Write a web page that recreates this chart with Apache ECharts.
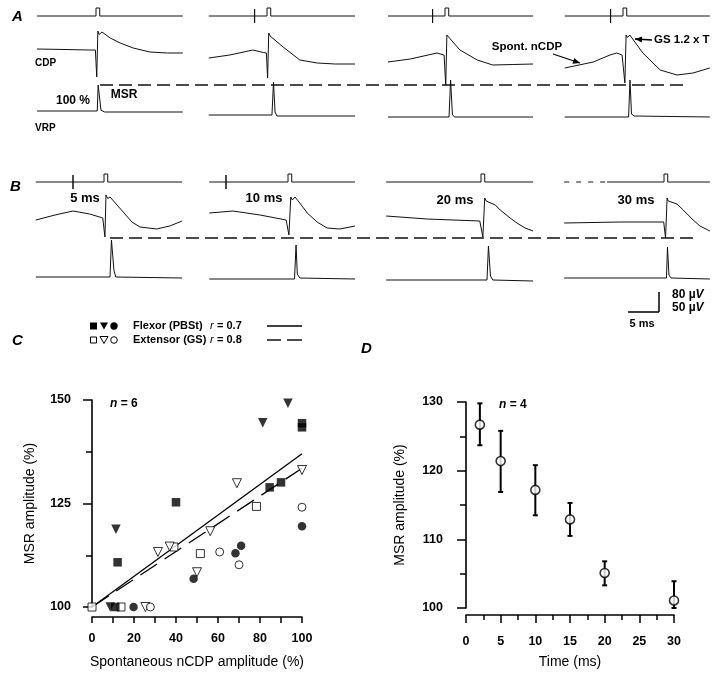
<!DOCTYPE html>
<html><head><meta charset="utf-8">
<script src="https://cdn.jsdelivr.net/npm/echarts@6/dist/echarts.min.js"></script>
<style>html,body{margin:0;padding:0;background:#fff}#c{width:720px;height:677px}</style>
</head><body><div id="c"></div>
<script>
// ================= DATA =================
// Panels A/B: traces, time in ms relative to GS test pulse, amplitude in µV
const windowsA = [[-9.5,14],[-9.4,14.2],[-9.2,14.2],[-9.4,14]];
const windowsB = [[-11,12.6],[-12.7,10.8],[-15.3,8.4],[-16.1,7.4]];
const stimTicksA = [null,-2,-2,-2];      // nCDP trigger (ms)
const stimTicksB = [-5,-10,-20,-30];     // conditioning delay (ms)
const delayLabelsB = ['5 ms','10 ms','20 ms','30 ms'];

const cdpA1 = [[-9.5,4],[-5,2],[-1,0],[-0.1,0],[0.12,-108],[0.3,76],[0.5,62],[0.97,72],[2.3,48],[3.9,28],[6.0,8],[8.7,-8],[11.5,-12],[14,-12]];
const cdpA2 = [[-9.4,-32],[-6,-20],[-2.3,0],[-0.6,-10],[-0.1,-12],[0.1,-112],[0.28,68],[0.5,56],[0.8,64],[2.6,12],[5.3,-40],[8.1,-52],[11,-56],[14.2,-56]];
const cdpA3 = [[-9.2,-48],[-5.6,-36],[-1.3,-12],[-0.15,-20],[0.12,-140],[0.3,60],[0.45,52],[0.6,60],[2.4,0],[5.2,-40],[7.7,-60],[11,-58],[14.2,-56]];
const cdpA4 = [[-9.4,-72],[-4.8,-48],[-2.1,-20],[-1,-12],[-0.15,-20],[0.3,-132],[0.5,60],[0.7,50],[1.1,60],[3.2,-12],[6,-80],[8.7,-100],[11.3,-92],[14,-72]];
const vrpA1 = [[-9.5,10],[0.2,10],[0.35,75],[0.6,75],[0.8,12],[1.4,7.5],[14,7.5]];
const vrpA2 = [[-9.4,0],[0.8,0],[1.05,82.5],[1.3,7.5],[1.6,-2.5],[14.2,-2.5]];
const vrpA3 = [[-9.2,-5],[0.65,-5],[0.9,87.5],[1.2,0],[1.6,-5],[14.2,-5]];
const vrpA4 = [[-9.4,-5],[0.9,-5],[1.13,87.5],[1.37,2.5],[1.8,-2.5],[14,-5]];

const cdpB1 = [[-11,0],[-7.9,20],[-5,36],[-2.3,24],[-0.2,8],[0.15,-68],[0.32,100],[0.6,86],[0.97,92],[2.1,60],[3.1,32],[4.5,-8],[5.8,-28],[8.5,-36],[10.6,-24],[12.6,-4]];
const cdpB2 = [[-12.7,28],[-8.9,36],[-4.5,20],[-0.3,0],[0.15,-60],[0.45,92],[0.7,80],[1.13,92],[1.9,68],[3.1,28],[4.7,-8],[6.3,-32],[8.4,-36],[10.8,-24]];
const cdpB3 = [[-15.3,16],[-8.7,4],[-0.2,-4],[0.3,-68],[0.6,88],[0.85,76],[1.13,84],[2.3,60],[3.1,40],[4.7,8],[5.8,-12],[7.1,-32],[8.4,-44]];
const cdpB4 = [[-16.1,-12],[-7.1,-8],[-0.05,-8],[0.25,-72],[0.5,88],[0.7,76],[0.97,84],[2.1,64],[3.1,40],[4.7,0],[5.8,-24],[7.4,-44]];
const vrpB1 = [[-11,2.5],[0.97,2.5],[1.2,95],[1.37,100],[1.6,20],[1.9,2.5],[12.6,0]];
const vrpB2 = [[-12.7,-2.5],[1.05,-2.5],[1.3,82.5],[1.5,10],[1.9,0],[10.8,-2.5]];
const vrpB3 = [[-15.3,-5],[0.97,-5],[1.2,80],[1.53,5],[1.9,-5],[8.4,-7.5]];
const vrpB4 = [[-16.1,0],[0.4,0],[0.56,77.5],[0.8,7.5],[1.13,0],[7.4,-2.5]];

// Panel C: spontaneous nCDP amplitude (%) vs MSR amplitude (%)
const flexSq  = [[12.2,110.8],[40,125.3],[84.6,128.9],[90,130.1],[100,144.4],[100,143.4],[11.1,100]];
const flexTri = [[11.4,118.8],[81.3,144.5],[93.3,149.2],[8.7,100]];
const flexCir = [[19.8,100],[48.4,106.8],[68.3,113],[71,114.8],[100,119.5]];
const extSq   = [[0,100],[13.8,100],[51.6,112.9],[78.3,124.3],[39,114.5]];
const extTri  = [[31.4,113.3],[37,114.6],[56.3,118.3],[69,129.9],[50,108.4],[100,133.1],[25.4,100]];
const extCir  = [[60.8,113.3],[70,110.2],[100,124.1],[27.8,100]];
const fitFlex = [[0,100],[100,137]];
const fitExt  = [[0,100],[100,133.5]];

// Panel D: time (ms) vs MSR amplitude (%), mean ± SEM
const timeD  = [2,5,10,15,20,30];
const meanD  = [126.7,121.4,117.2,112.9,105.1,101.1];
const upperD = [129.8,125.8,120.8,115.3,106.8,103.9];
const lowerD = [123.7,116.9,113.5,110.5,103.3,100.0];

// ================= LAYOUT =================
const FONT = '"Liberation Sans", Arial, Helvetica, sans-serif';
const PX_PER_MS = 6.2;
const pulseXA = [96,267,445,623];
const pulseXB = [104,288,481,664];
const rowsA = {stim:{top:6,h:20,min:-10,max:10}, cdp:{top:20,h:70,min:-160,max:120}, vrp:{top:75,h:50,min:-25,max:100}};
const rowsB = {stim:{top:172,h:20,min:-10,max:10}, cdp:{top:185,h:65,min:-120,max:140}, vrp:{top:230,h:55,min:-17.5,max:120}};

const grids=[], xAxes=[], yAxes=[], series=[];
function addGrid(left,width,row,xmin,xmax){
  const gi=grids.length;
  grids.push({left:left, top:row.top, width:width, height:row.h, outerBoundsMode:'none'});
  xAxes.push({type:'value', gridIndex:gi, min:xmin, max:xmax, show:false});
  yAxes.push({type:'value', gridIndex:gi, min:row.min, max:row.max, show:false});
  return gi;
}
function addLine(gi,data,style){
  series.push({type:'line', xAxisIndex:gi, yAxisIndex:gi, data:data, symbol:'none', silent:true,
    animation:false, lineStyle:Object.assign({color:'#111', width:1}, style||{})});
}
function stimData(win,tick,startT){
  const d=[[startT,0]];
  if(tick!==null && tick>=win[0]){ d.push([tick,0],[tick,7],[tick,-7],[tick,0]); }
  d.push([0,0],[0,8],[0.6,8],[0.6,0],[win[1],0]);
  return d;
}
function buildPanel(rows,pulseX,wins,ticks,cdps,vrps,dashEnds){
  for(let i=0;i<4;i++){
    const w=wins[i], left=pulseX[i]+w[0]*PX_PER_MS, width=(w[1]-w[0])*PX_PER_MS;
    let g=addGrid(left,width,rows.stim,w[0],w[1]);
    const de = dashEnds ? dashEnds[i] : null;
    if(de!==null){
      addLine(g,[[w[0],0],[de,0]],{type:[5,7]});
      addLine(g,stimData(w,ticks[i],de));
    } else addLine(g,stimData(w,ticks[i],w[0]));
    g=addGrid(left,width,rows.cdp,w[0],w[1]); addLine(g,cdps[i]);
    g=addGrid(left,width,rows.vrp,w[0],w[1]); addLine(g,vrps[i]);
  }
}
buildPanel(rowsA,pulseXA,windowsA,stimTicksA,[cdpA1,cdpA2,cdpA3,cdpA4],[vrpA1,vrpA2,vrpA3,vrpA4],null);
buildPanel(rowsB,pulseXB,windowsB,stimTicksB,[cdpB1,cdpB2,cdpB3,cdpB4],[vrpB1,vrpB2,vrpB3,vrpB4],[null,null,null,-9.2]);

// dashed 100% MSR reference lines (overlay grids in page-pixel x units)
const lvlA = Math.max.apply(null, vrpA1.map(p=>p[1]));
const lvlB = Math.max.apply(null, vrpB1.map(p=>p[1]));
let go = addGrid(0,720,rowsA.vrp,0,720); addLine(go,[[100,lvlA],[683,lvlA]],{type:[13,6],width:1.3});
go = addGrid(0,720,rowsB.vrp,0,720); addLine(go,[[110,lvlB],[693,lvlB]],{type:[13,6],width:1.3});

// ---------- Panel C ----------
const axisBlack = {lineStyle:{color:'#000', width:1.6}};
const gC = grids.length;
grids.push({left:92, top:400, width:210, height:207, outerBoundsMode:'none'});
xAxes.push({type:'value', gridIndex:gC, min:0, max:100, interval:20, offset:10,
  axisLine:axisBlack, axisTick:{show:true, length:6, lineStyle:{color:'#000', width:1.5}},
  minorTick:{show:true, splitNumber:2, length:6, lineStyle:{color:'#000', width:1.5}},
  splitLine:{show:false}, minorSplitLine:{show:false},
  axisLabel:{color:'#000', fontFamily:FONT, fontWeight:'bold', fontSize:12.5, margin:15},
  name:'Spontaneous nCDP amplitude (%)', nameLocation:'middle', nameGap:38,
  nameTextStyle:{color:'#000', fontFamily:FONT, fontSize:14}});
yAxes.push({type:'value', gridIndex:gC, min:100, max:150, interval:25, offset:7,
  axisLine:axisBlack, axisTick:{show:true, length:9, lineStyle:{color:'#000', width:1.5}},
  minorTick:{show:true, splitNumber:2, length:6, lineStyle:{color:'#000', width:1.5}},
  splitLine:{show:false}, minorSplitLine:{show:false},
  axisLabel:{color:'#000', fontFamily:FONT, fontWeight:'bold', fontSize:12.5, margin:14},
  name:'MSR amplitude (%)', nameLocation:'middle', nameRotate:90, nameGap:48,
  nameTextStyle:{color:'#000', fontFamily:FONT, fontSize:14}});
function scat(gi,data,symbol,size,filled,rot){
  series.push({type:'scatter', xAxisIndex:gi, yAxisIndex:gi, data:data, symbol:symbol, symbolSize:size,
    symbolRotate:rot||0, animation:false, silent:true, clip:false, z:3,
    itemStyle:filled?{color:'#000'}:{color:'#fff', borderColor:'#000', borderWidth:1}});
}
series.push({type:'line', xAxisIndex:gC, yAxisIndex:gC, data:fitFlex, symbol:'none', silent:true, animation:false, z:2, lineStyle:{color:'#000', width:1.3}});
series.push({type:'line', xAxisIndex:gC, yAxisIndex:gC, data:fitExt, symbol:'none', silent:true, animation:false, z:2, lineStyle:{color:'#000', width:1.3, type:[20,9]}});
scat(gC,extSq,'rect',8,false); scat(gC,extTri,'triangle',9,false,180); scat(gC,extCir,'circle',8,false);
scat(gC,flexSq,'rect',8.5,true); scat(gC,flexTri,'triangle',9.5,true,180); scat(gC,flexCir,'circle',8.5,true);

// ---------- Panel D ----------
const gD = grids.length;
grids.push({left:466, top:402, width:208, height:206, outerBoundsMode:'none'});
xAxes.push({type:'value', gridIndex:gD, min:0, max:30, interval:5, offset:7,
  axisLine:axisBlack, axisTick:{show:true, length:8, lineStyle:{color:'#000', width:1.5}},
  minorTick:{show:true, splitNumber:2, length:5, lineStyle:{color:'#000', width:1.5}},
  splitLine:{show:false}, minorSplitLine:{show:false},
  axisLabel:{color:'#000', fontFamily:FONT, fontWeight:'bold', fontSize:12.5, margin:20},
  name:'Time (ms)', nameLocation:'middle', nameGap:40,
  nameTextStyle:{color:'#000', fontFamily:FONT, fontSize:14}});
yAxes.push({type:'value', gridIndex:gD, min:100, max:130, interval:10, offset:7,
  axisLine:axisBlack, axisTick:{show:true, length:9, lineStyle:{color:'#000', width:1.5}},
  minorTick:{show:true, splitNumber:2, length:6, lineStyle:{color:'#000', width:1.5}},
  splitLine:{show:false}, minorSplitLine:{show:false},
  axisLabel:{color:'#000', fontFamily:FONT, fontWeight:'bold', fontSize:12.5, margin:16},
  name:'MSR amplitude (%)', nameLocation:'middle', nameRotate:90, nameGap:52,
  nameTextStyle:{color:'#000', fontFamily:FONT, fontSize:14}});
series.push({type:'custom', xAxisIndex:gD, yAxisIndex:gD, silent:true, animation:false, z:2, clip:false,
  data: timeD.map((t,i)=>[t,lowerD[i],upperD[i]]),
  renderItem:function(params,api){
    const lo=api.coord([api.value(0),api.value(1)]), hi=api.coord([api.value(0),api.value(2)]);
    const st={stroke:'#000', lineWidth:2};
    return {type:'group', children:[
      {type:'line', shape:{x1:lo[0],y1:lo[1],x2:hi[0],y2:hi[1]}, style:st},
      {type:'line', shape:{x1:lo[0]-2.5,y1:lo[1],x2:lo[0]+2.5,y2:lo[1]}, style:st},
      {type:'line', shape:{x1:hi[0]-2.5,y1:hi[1],x2:hi[0]+2.5,y2:hi[1]}, style:st}
    ]};
  }});
series.push({type:'scatter', xAxisIndex:gD, yAxisIndex:gD, data:timeD.map((t,i)=>[t,meanD[i]]),
  symbol:'circle', symbolSize:9, silent:true, animation:false, clip:false, z:3,
  itemStyle:{color:'#fff', borderColor:'#000', borderWidth:1.6}});

// ================= ANNOTATIONS =================
const G=[];
function txt(x,y,text,font,align,rich){
  const s={text:text, x:0, y:0, font:font, fill:'#000', textAlign:align||'left', align:align||'left',
    textVerticalAlign:'middle', verticalAlign:'middle'};
  if(rich) s.rich=rich;
  G.push({type:'text', x:x, y:y, style:s, silent:true});
}
function seg(x1,y1,x2,y2,w,dash){
  G.push({type:'line', shape:{x1:x1,y1:y1,x2:x2,y2:y2}, style:{stroke:'#000', lineWidth:w||1, lineDash:dash||null}, silent:true});
}
function arrow(x1,y1,x2,y2){
  seg(x1,y1,x2,y2,1.3);
  const dx=x2-x1, dy=y2-y1, L=Math.hypot(dx,dy), ux=dx/L, uy=dy/L, hl=7, hw=3;
  const bx=x2-ux*hl, by=y2-uy*hl;
  G.push({type:'polygon', shape:{points:[[x2,y2],[bx-uy*hw,by+ux*hw],[bx+uy*hw,by-ux*hw]]}, style:{fill:'#000'}, silent:true});
}
const PL='italic bold 15px '+FONT;
txt(12,17,'A',PL); txt(10,187,'B',PL); txt(12,341,'C',PL); txt(361,349,'D',PL);
txt(35,63,'CDP','bold 10px '+FONT); txt(35,128,'VRP','bold 10px '+FONT);
txt(73,101,'100 %','bold 12px '+FONT,'center'); txt(124,95,'MSR','bold 12px '+FONT,'center');
txt(527,47,'Spont. nCDP','bold 11.5px '+FONT,'center'); arrow(553,54,580,63);
txt(654,40,'GS 1.2 x T','bold 11.5px '+FONT); arrow(652,40,635,39);
const dlx=[85,264,455,636], dly=[198,198,200,200];
delayLabelsB.forEach((s,i)=>txt(dlx[i],dly[i],s,'bold 13px '+FONT,'center'));
// scale bars
seg(659,292,659,312,1.5); seg(628,312,659,312,1.5);
const R={b:{font:'bold 12px '+FONT, fill:'#000'}, i:{font:'italic bold 12px '+FONT, fill:'#000'}};
txt(672,295,'{b|80 µ}{i|V}',null,'left',R); txt(672,308,'{b|50 µ}{i|V}',null,'left',R);
txt(642,324,'5 ms','bold 11px '+FONT,'center');
// panel C legend
const ly1=326, ly2=340;
G.push({type:'rect', shape:{x:90,y:ly1-3.5,width:7,height:7}, style:{fill:'#000'}, silent:true});
G.push({type:'polygon', shape:{points:[[100,ly1-3.5],[108,ly1-3.5],[104,ly1+3.5]]}, style:{fill:'#000'}, silent:true});
G.push({type:'circle', shape:{cx:114,cy:ly1,r:3.7}, style:{fill:'#000'}, silent:true});
G.push({type:'rect', shape:{x:90.5,y:ly2-3,width:6,height:6}, style:{fill:'#fff',stroke:'#000',lineWidth:1}, silent:true});
G.push({type:'polygon', shape:{points:[[100,ly2-3.5],[108,ly2-3.5],[104,ly2+3.5]]}, style:{fill:'#fff',stroke:'#000',lineWidth:1}, silent:true});
G.push({type:'circle', shape:{cx:114,cy:ly2,r:3.3}, style:{fill:'#fff',stroke:'#000',lineWidth:1}, silent:true});
txt(133,ly1,'Flexor (PBSt)','bold 11px '+FONT); txt(133,ly2,'Extensor (GS)','bold 11px '+FONT);
const RL={i:{font:'italic 11px '+FONT, fill:'#000'}, b:{font:'bold 11px '+FONT, fill:'#000'}};
txt(210,ly1,'{i|r} {b|= 0.7}',null,'left',RL); txt(210,ly2,'{i|r} {b|= 0.8}',null,'left',RL);
seg(267,ly1,302,ly1,1.4); seg(267,ly2,281,ly2,1.4); seg(287,ly2,302,ly2,1.4);
const RN={i:{font:'italic bold 12px '+FONT, fill:'#000'}, b:{font:'bold 12px '+FONT, fill:'#000'}};
txt(110,404,'{i|n}{b| = 6}',null,'left',RN);
txt(499,405,'{i|n}{b| = 4}',null,'left',RN);

const chart = echarts.init(document.getElementById('c'), null, {renderer:'canvas'});
chart.setOption({animation:false, backgroundColor:'#fff', grid:grids, xAxis:xAxes, yAxis:yAxes, series:series, graphic:G});
</script></body></html>
